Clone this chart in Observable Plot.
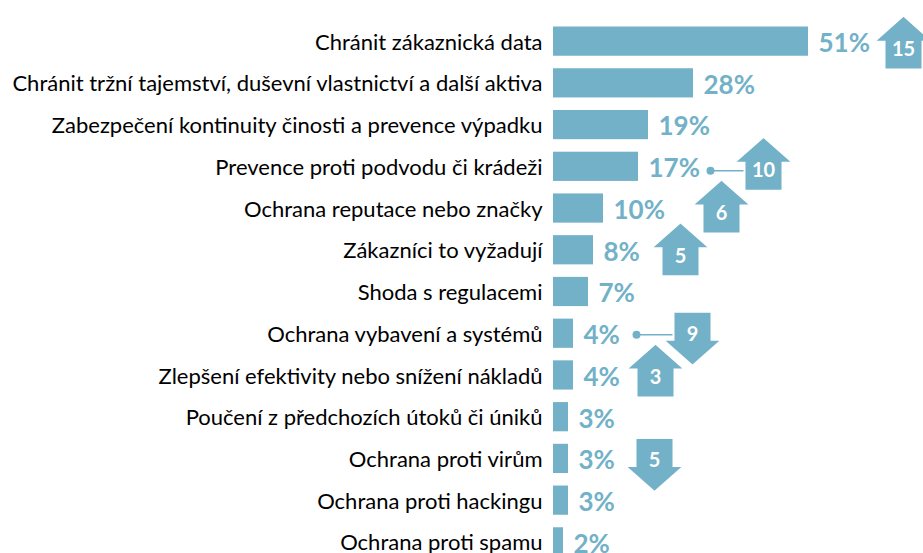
<!DOCTYPE html>
<html>
<head>
<meta charset="utf-8">
<script src="https://cdn.jsdelivr.net/npm/d3@7"></script>
<script src="https://cdn.jsdelivr.net/npm/@observablehq/plot@0.6"></script>
<style>
  html, body { margin: 0; padding: 0; background: #fff; overflow: hidden; }
  svg { display: block; }
</style>
</head>
<body>
<script>
// ---- data ----
const categories = [
  "Chránit zákaznická data",
  "Chránit tržní tajemství, duševní vlastnictví a další aktiva",
  "Zabezpečení kontinuity činosti a prevence výpadku",
  "Prevence proti podvodu či krádeži",
  "Ochrana reputace nebo značky",
  "Zákazníci to vyžadují",
  "Shoda s regulacemi",
  "Ochrana vybavení a systémů",
  "Zlepšení efektivity nebo snížení nákladů",
  "Poučení z předchozích útoků či úniků",
  "Ochrana proti virům",
  "Ochrana proti hackingu",
  "Ochrana proti spamu"
];
const values = [51, 28, 19, 17, 10, 8, 7, 4, 4, 3, 3, 3, 2];

const changeCategories = [
  "Chránit zákaznická data",
  "Prevence proti podvodu či krádeži",
  "Ochrana reputace nebo značky",
  "Zákazníci to vyžadují",
  "Zlepšení efektivity nebo snížení nákladů",
  "Ochrana vybavení a systémů",
  "Ochrana proti virům"
];
const changes = [15, 10, 6, 5, 3, -9, -5];

// ---- annotation layout (pixels relative to bar end / row centre) ----
const arrowOffset = [95, 125, 118, 87, 82, 119, 86];
const arrowShiftY = [1, -3, -2, -1, -5, 5, 6];
const connectorOffset = [null, 72, null, null, null, 63, null];

const blue = "#72b1c8";
const W = 923, H = 569, ML = 553;
const xMax = 74;
const k = (W - ML) / xMax; // px per percentage point

const rows = categories.map((c, i) => ({cat: c, value: values[i]}));
const arrows = changeCategories.map((c, i) => ({
  cat: c,
  value: values[categories.indexOf(c)],
  change: changes[i],
  dx: arrowOffset[i],
  dy: arrowShiftY[i],
  conn: connectorOffset[i]
}));

function arrowSymbol(up) {
  const s = up ? 1 : -1;
  return {
    draw(ctx, size) {
      const r = Math.sqrt(size / Math.PI);
      const hw = r * 1.093, bw = r * 0.704, hb = -r + r * 0.963;
      ctx.moveTo(0, -s * r);
      ctx.lineTo(hw, s * hb);
      ctx.lineTo(bw, s * hb);
      ctx.lineTo(bw, s * r);
      ctx.lineTo(-bw, s * r);
      ctx.lineTo(-bw, s * hb);
      ctx.lineTo(-hw, s * hb);
      ctx.closePath();
    }
  };
}

const marks = [
  Plot.barX(rows, {x: "value", y: "cat", fill: blue}),
  Plot.text(rows, {x: 0, y: "cat", text: "cat", textAnchor: "end", dx: -11, dy: 1,
    fill: "black", fontSize: 22}),
  Plot.text(rows, {x: "value", y: "cat", text: d => d.value + "%", textAnchor: "start",
    dx: 10, dy: 2, fill: blue, fontSize: 26, fontWeight: "bold"})
];

for (const a of arrows) {
  const up = a.change > 0;
  const numDy = a.dy + (up ? 7 : -4);
  if (a.conn != null) {
    marks.push(Plot.ruleY([a], {y: "cat", x1: d => d.value + d.conn / k, x2: d => d.value + d.dx / k,
      dy: numDy, stroke: blue, strokeWidth: 1.5}));
    marks.push(Plot.dot([a], {x: d => d.value + d.conn / k, y: "cat", dy: numDy, r: 4, fill: blue}));
  }
  marks.push(Plot.dot([a], {x: "value", y: "cat", dx: a.dx, dy: a.dy, r: 27,
    symbol: arrowSymbol(up), fill: blue, stroke: "white", strokeWidth: 2}));
  marks.push(Plot.text([a], {x: "value", y: "cat", dx: a.dx, dy: numDy,
    text: d => String(Math.abs(d.change)), fill: "white", fontSize: 20, fontWeight: "bold"}));
}

const chart = Plot.plot({
  width: W,
  height: H,
  marginLeft: ML,
  marginRight: 0,
  marginTop: 14,
  marginBottom: 0,
  style: {fontFamily: "Lato, sans-serif", background: "white", overflow: "visible"},
  x: {domain: [0, xMax], axis: null},
  y: {domain: categories, axis: null, padding: 0.3, round: false},
  marks
});
document.body.appendChild(chart);
</script>
</body>
</html>
